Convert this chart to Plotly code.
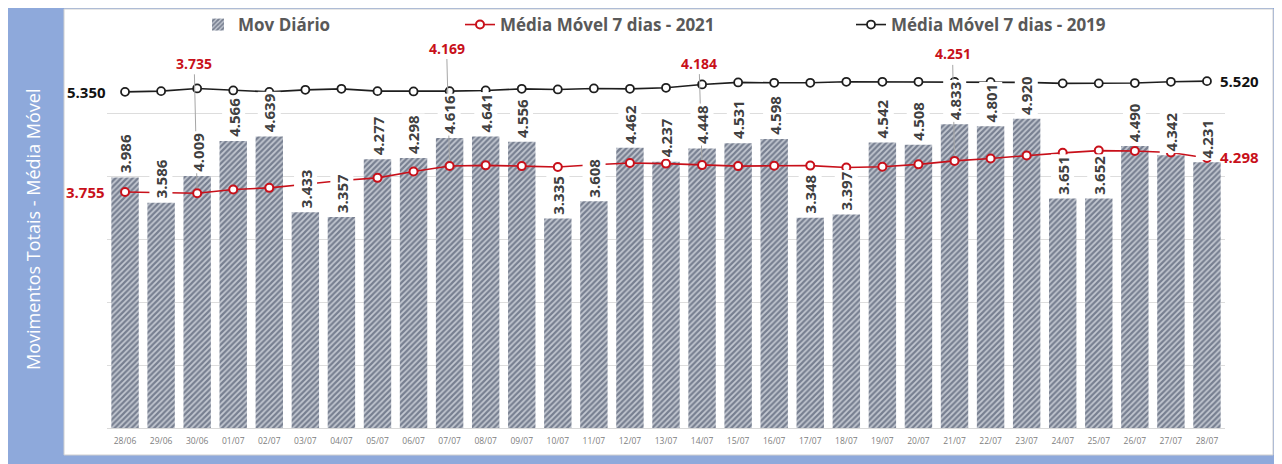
import plotly.graph_objects as go

# ---------------- data ----------------
dates = ["28/06", "29/06", "30/06", "01/07", "02/07", "03/07", "04/07", "05/07",
         "06/07", "07/07", "08/07", "09/07", "10/07", "11/07", "12/07", "13/07",
         "14/07", "15/07", "16/07", "17/07", "18/07", "19/07", "20/07", "21/07",
         "22/07", "23/07", "24/07", "25/07", "26/07", "27/07", "28/07"]

mov_diario = [3986, 3586, 4009, 4566, 4639, 3433, 3357, 4277, 4298, 4616, 4641,
              4556, 3335, 3608, 4462, 4237, 4448, 4531, 4598, 3348, 3397, 4542,
              4508, 4833, 4801, 4920, 3651, 3652, 4490, 4342, 4231]

media_2021 = [3755, 3745, 3735, 3795, 3822, 3880, 3939, 3981, 4083, 4169, 4180,
              4168, 4154, 4190, 4217, 4208, 4184, 4168, 4174, 4176, 4146, 4157,
              4196, 4251, 4290, 4336, 4379, 4415, 4408, 4384, 4298]

media_2019 = [5350, 5361, 5404, 5372, 5350, 5382, 5398, 5361, 5356, 5361, 5372,
              5398, 5388, 5404, 5398, 5414, 5468, 5500, 5494, 5494, 5510, 5510,
              5510, 5510, 5505, 5500, 5485, 5485, 5490, 5510, 5520]

name_bar = "Mov Diário"
name_2021 = "Média Móvel 7 dias - 2021"
name_2019 = "Média Móvel 7 dias - 2019"
y_title = "Movimentos Totais - Média Móvel"

# labelled points of the 2021 line: index -> (ax, ay) or side
labels_2021 = {0: "left", 2: (-3, -130), 9: (-3, -118), 16: (-3, -102), 23: (-2, -107), 30: "right"}


def fmt(v):
    return f"{v:,}".replace(",", ".")


# ---------------- layout geometry ----------------
# page body has an 8px margin, so the figure is drawn 8px right/down
OFF = 8
W, H = 1282 - OFF, 464 - OFF
ML, MT = 107 - OFF, 51 - OFF
PW, PH = 1118, 377
MR, MB = W - ML - PW, H - MT - PH


def xp(px):  # screen px -> paper
    return (px - OFF - ML) / PW


def yp(py):  # screen px -> paper
    return (MT + PH - (py - OFF)) / PH


FONT = "Open Sans"
RED = "#C8101A"

fig = go.Figure()

fig.add_trace(go.Bar(
    x=dates, y=mov_diario, name=name_bar,
    marker=dict(color="#BFC5CF",
                line=dict(width=0),
                pattern=dict(shape="/", fgcolor="#2B3650", bgcolor="#C3C8D1",
                             size=4, solidity=0.55)),
    legend="legend",
))

fig.add_trace(go.Scatter(
    x=dates, y=media_2021, name=name_2021, mode="lines+markers",
    line=dict(color=RED, width=1.6),
    marker=dict(symbol="circle", size=8, color="white", line=dict(color=RED, width=2)),
    legend="legend2",
))

fig.add_trace(go.Scatter(
    x=dates, y=media_2019, name=name_2019, mode="lines+markers",
    line=dict(color="#1E1E1E", width=1.6),
    marker=dict(symbol="circle", size=8, color="white", line=dict(color="#1E1E1E", width=1.8)),
    legend="legend3",
))

annotations = []

# red labels for 2021 line
for i, pos in labels_2021.items():
    base = dict(x=dates[i], y=media_2021[i], xref="x", yref="y", text=fmt(media_2021[i]),
                font=dict(family=FONT, size=15, color=RED, weight="bold"))
    if pos == "left":
        base.update(showarrow=False, xanchor="right", xshift=-18)
    elif pos == "right":
        base.update(showarrow=False, xanchor="left", xshift=11, yshift=1)
    else:
        base.update(showarrow=True, ax=pos[0], ay=pos[1], arrowhead=0,
                    arrowcolor="#A6A6A6", arrowwidth=1, standoff=5,
                    font=dict(family=FONT, size=14, color=RED, weight="bold"))
    annotations.append(base)

# black labels for 2019 line (first and last)
annotations.append(dict(x=dates[0], y=media_2019[0], xref="x", yref="y", text=fmt(media_2019[0]),
                        showarrow=False, xanchor="right", xshift=-17,
                        font=dict(family=FONT, size=15, color="#111111", weight="bold")))
annotations.append(dict(x=dates[-1], y=media_2019[-1], xref="x", yref="y", text=fmt(media_2019[-1]),
                        showarrow=False, xanchor="left", xshift=11,
                        font=dict(family=FONT, size=15, color="#111111", weight="bold")))

# bar value labels (rotated, white background)
for d, v in zip(dates, mov_diario):
    annotations.append(dict(x=d, y=v, xref="x", yref="y", text=fmt(v), textangle=-90,
                            showarrow=False, xanchor="center", yanchor="bottom", yshift=2,
                            bgcolor="white", borderpad=1,
                            font=dict(family=FONT, size=15, color="#404040", weight="bold")))

# y axis title
annotations.append(dict(x=xp(33), y=yp(230), xref="paper", yref="paper", text=y_title,
                        textangle=-90, showarrow=False, xanchor="center", yanchor="middle",
                        font=dict(family=FONT, size=18, color="white")))

shapes = [
    dict(type="rect", xref="paper", yref="paper", x0=xp(0), x1=xp(1300), y0=yp(480), y1=yp(0),
         fillcolor="#8EA9DB", line=dict(width=0), layer="below"),
    dict(type="rect", xref="paper", yref="paper", x0=xp(64), x1=xp(1273), y0=yp(455), y1=yp(9),
         fillcolor="white", line=dict(color="#CFCFCF", width=1), layer="below"),
]

leg_font = dict(family=FONT, size=17, color="#595959", weight="bold")
leg_common = dict(orientation="h", yanchor="middle", y=yp(25), xanchor="left",
                  bgcolor="rgba(0,0,0,0)", font=leg_font, itemwidth=30)

fig.update_layout(
    width=W, height=H,
    margin=dict(l=ML, r=MR, t=MT, b=MB, pad=0, autoexpand=False),
    paper_bgcolor="white", plot_bgcolor="rgba(0,0,0,0)",
    separators=",.",
    bargap=0.24,
    showlegend=True,
    legend=dict(leg_common, x=xp(198)),
    legend2=dict(leg_common, x=xp(460)),
    legend3=dict(leg_common, x=xp(851)),
    xaxis=dict(type="category", range=[-0.5, len(dates) - 0.5], autorange=False,
               showgrid=False, showline=True, linecolor="#D9D9D9",
               linewidth=1, ticks="", ticklabelstandoff=5, automargin=False,
               tickfont=dict(family=FONT, size=8.5, color="#808080")),
    yaxis=dict(range=[0, 6000], autorange=False, dtick=1000, showgrid=True, gridcolor="#DDDDDD",
               gridwidth=1, zeroline=False, showticklabels=False, ticks="", automargin=False),
    annotations=annotations,
    shapes=shapes,
)

fig.write_html("out.html")
